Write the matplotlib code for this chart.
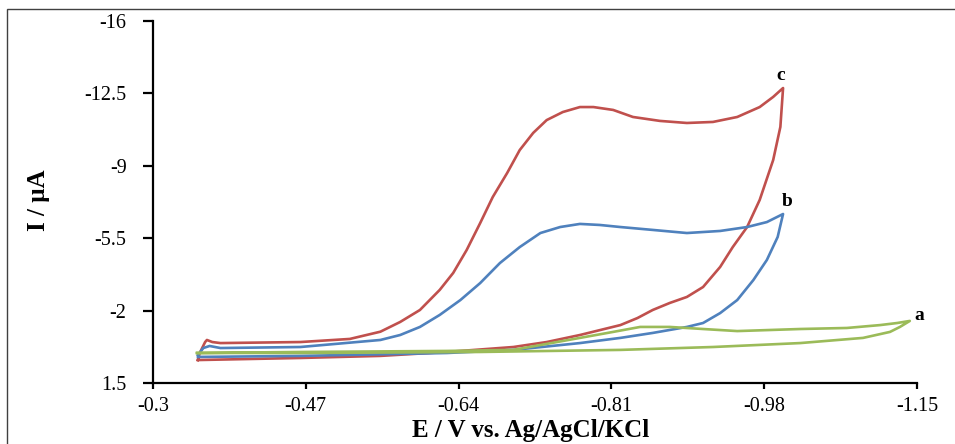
import matplotlib.pyplot as plt
from matplotlib.patches import Rectangle

# curve c (red), closed loop: forward scan then return
c_E = [-0.350, -0.352, -0.358, -0.360, -0.366, -0.375, -0.464, -0.519, -0.553,
       -0.575, -0.597, -0.619, -0.634, -0.649, -0.664, -0.678, -0.694, -0.708,
       -0.723, -0.738, -0.756, -0.775, -0.790, -0.812, -0.834, -0.864, -0.894,
       -0.923, -0.950, -0.975, -0.990, -1.001,
       -0.998, -0.990, -0.975, -0.961, -0.945, -0.931, -0.912, -0.894, -0.875,
       -0.856, -0.839, -0.820, -0.775, -0.738, -0.701, -0.627, -0.553, -0.464,
       -0.350]
c_I = [0.39, 0.05, -0.48, -0.58, -0.48, -0.43, -0.48, -0.63, -0.98,
       -1.45, -2.03, -3.00, -3.82, -4.93, -6.23, -7.49, -8.65, -9.76,
       -10.59, -11.21, -11.60, -11.84, -11.84, -11.70, -11.36, -11.17, -11.07,
       -11.12, -11.36, -11.84, -12.33, -12.76,
       -10.88, -9.28, -7.35, -6.04, -5.07, -4.11, -3.14, -2.66, -2.37,
       -2.03, -1.64, -1.30, -0.82, -0.48, -0.24, 0.00, 0.19, 0.29,
       0.39]

# curve b (blue)
b_E = [-0.350, -0.356, -0.363, -0.375, -0.464, -0.553, -0.575, -0.597, -0.619,
       -0.642, -0.664, -0.686, -0.708, -0.731, -0.753, -0.775, -0.797, -0.820,
       -0.856, -0.894, -0.931, -0.961, -0.983, -1.001,
       -0.995, -0.983, -0.968, -0.950, -0.931, -0.912, -0.894, -0.856, -0.820,
       -0.775, -0.701, -0.627, -0.464, -0.350]
b_I = [0.15, -0.19, -0.29, -0.19, -0.24, -0.58, -0.82, -1.21, -1.79,
       -2.51, -3.33, -4.30, -5.07, -5.75, -6.04, -6.19, -6.14, -6.04,
       -5.90, -5.75, -5.85, -6.04, -6.28, -6.67,
       -5.56, -4.45, -3.48, -2.51, -1.88, -1.40, -1.21, -0.92, -0.68,
       -0.43, -0.10, 0.05, 0.19, 0.24]

# curve a (green)
a_E = [-0.349, -0.464, -0.627, -0.701, -0.738, -0.775, -0.812, -0.842, -0.875,
       -0.912, -0.950, -1.020, -1.072, -1.109, -1.128, -1.142,
       -1.131, -1.120, -1.090, -1.020, -0.923, -0.820, -0.664, -0.464, -0.349]
a_I = [0.05, 0.00, -0.05, -0.10, -0.39, -0.68, -0.97, -1.21, -1.21,
       -1.11, -1.01, -1.11, -1.16, -1.30, -1.40, -1.50,
       -1.21, -0.97, -0.68, -0.43, -0.24, -0.10, 0.00, 0.05, 0.05]

x_ticks = [-0.3, -0.47, -0.64, -0.81, -0.98, -1.15]
y_ticks = [1.5, -2, -5.5, -9, -12.5, -16]

serif = 'Liberation Serif'

fig = plt.figure(figsize=(9.55, 4.44), dpi=100)
ax = fig.add_axes([0.1602, 0.1374, 0.8, 0.8153])

ax.plot(c_E, c_I, color='#C0504D', lw=1.9, solid_joinstyle='round')
ax.plot(b_E, b_I, color='#4F81BD', lw=1.9, solid_joinstyle='round')
ax.plot(a_E, a_I, color='#9BBB59', lw=1.9, solid_joinstyle='round')

ax.set_xlim(-0.3, -1.15)
ax.set_ylim(1.5, -16)
ax.set_xticks(x_ticks)
ax.set_xticklabels([str(v) for v in x_ticks])
ax.set_yticks(y_ticks)
ax.set_yticklabels([str(v) for v in y_ticks])

for s in ['top', 'right']:
    ax.spines[s].set_visible(False)
for s in ['left', 'bottom']:
    ax.spines[s].set_linewidth(1.6)
ax.tick_params(axis='y', length=7, width=1.6, pad=12)
ax.tick_params(axis='x', length=4, width=1.6, pad=6)
for lab in ax.get_xticklabels() + ax.get_yticklabels():
    lab.set_fontfamily(serif)
    lab.set_fontsize(14.5)

ax.text(-0.998, -13.15, 'c', fontsize=14, fontweight='bold', family=serif, ha='center', va='baseline')
ax.text(-1.005, -7.06, 'b', fontsize=14, fontweight='bold', family=serif, ha='center', va='baseline')
ax.text(-1.147, -1.55, 'a', fontsize=14, fontweight='bold', family=serif, ha='left', va='baseline')

fig.text(0.040, 0.55, 'I / μA', rotation=90, fontsize=18, fontweight='bold',
         family=serif, ha='center', va='center')
fig.text(0.556, 0.004, 'E / V vs. Ag/AgCl/KCl', fontsize=18, fontweight='bold',
         family=serif, ha='center', va='bottom')

# chart-area border (cropped on right and bottom)
fig.patches.append(Rectangle((7 / 955, -0.1), 1.2, 1 - 9 / 444 + 0.1, transform=fig.transFigure,
                             fill=False, edgecolor='#404040', lw=1))

fig.savefig('out.png', dpi=100)
